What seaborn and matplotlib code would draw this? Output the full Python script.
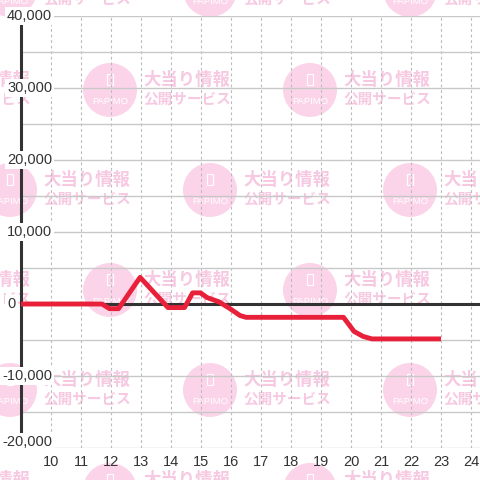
import matplotlib
matplotlib.use("Agg")
import matplotlib.pyplot as plt
import matplotlib.transforms as mtransforms
from matplotlib.patches import Circle, Rectangle
import pandas as pd
import seaborn as sns

# balance curve (hour of day vs. difference)
hours = [9.0, 11.7, 11.95, 12.25, 12.97, 13.9, 14.45, 14.72, 14.98, 15.2,
         15.6, 15.95, 16.3, 16.5, 19.75, 20.1, 20.4, 20.7, 23.0]
balance = [0, 0, -650, -650, 3700, -500, -500, 1550, 1550, 900,
           300, -600, -1600, -1850, -1850, -3800, -4500, -4850, -4850]

x_ticks = list(range(10, 25))
y_grid = list(range(-20000, 40001, 5000))
y_labels = [-20000, -10000, 0, 10000, 20000, 30000, 40000]

sns.set_style("white")
plt.rcParams['font.family'] = ['Liberation Sans', 'DejaVu Sans']

fig = plt.figure(figsize=(4.8, 4.8), dpi=100)

# background watermark tiles (pixel coordinates)
bg = fig.add_axes([0, 0, 1, 1])
bg.set_xlim(0, 480)
bg.set_ylim(480, 0)
bg.axis('off')
for row, cy in enumerate(range(-10, 500, 100)):
    start = 10 if row % 2 == 0 else 110
    for cx in range(start - 200, 520, 200):
        bg.add_patch(Circle((cx, cy), 27, color='#fcd4e9', lw=0))
        bg.add_patch(Rectangle((cx - 3, cy - 16), 6, 11, fill=False, ec='white', lw=0.8))
        bg.text(cx, cy + 11, 'PAPIMO', color='white', fontsize=6.8, ha='center', va='center')
        bg.text(cx + 33, cy - 10.5, '大当り情報', family=['Noto Sans CJK JP'], fontsize=12.5,
                color='#f7c8e1', ha='left', va='center', fontweight='bold')
        bg.text(cx + 33, cy + 8.5, '公開サービス', family=['Noto Sans CJK JP'], fontsize=10.5,
                color='#f7c8e1', ha='left', va='center', fontweight='bold')

# main chart
ax = fig.add_axes([21 / 480, 32 / 480, 459 / 480, 432 / 480])
ax.set_facecolor('none')
ax.set_xlim(9, 9 + 459 / 30)
ax.set_ylim(-20000, 40000)

ax.set_yticks(y_grid)
ax.set_yticklabels([])
ax.set_xticks(x_ticks)
ax.set_xticklabels([str(h) for h in x_ticks])
ax.tick_params(axis='both', length=0)
ax.tick_params(axis='x', pad=5, labelsize=10.5, labelcolor='#333333')

ax.yaxis.grid(True, color='#c8c8c8', lw=1, ls='-')
ax.xaxis.grid(True, color='#bbbbbb', lw=0.8, ls=(0, (2.5, 2.5)))
ax.set_axisbelow(True)

for side in ['top', 'right', 'bottom']:
    ax.spines[side].set_visible(False)
ax.spines['left'].set_color('#333333')
ax.spines['left'].set_linewidth(2.2)

ax.axhline(0, color='#333333', lw=2.2, zorder=3)

sns.lineplot(x=hours, y=balance, color='#e8203a', lw=3.5, ax=ax, zorder=4,
             solid_capstyle='butt')

trans = mtransforms.blended_transform_factory(ax.transAxes, ax.transData)
for v in y_labels:
    xpos = -0.0415 if v < 0 else -0.0305
    dy = 4 if v == -20000 else 0
    ax.annotate(f'{v:,}', xy=(xpos, v), xycoords=trans, xytext=(0, dy),
                textcoords='offset points', ha='left', va='center', fontsize=10.5,
                color='#333333', zorder=5, annotation_clip=False,
                bbox=dict(fc='white', ec='none', pad=1.5))

fig.savefig('out.png', dpi=100)
